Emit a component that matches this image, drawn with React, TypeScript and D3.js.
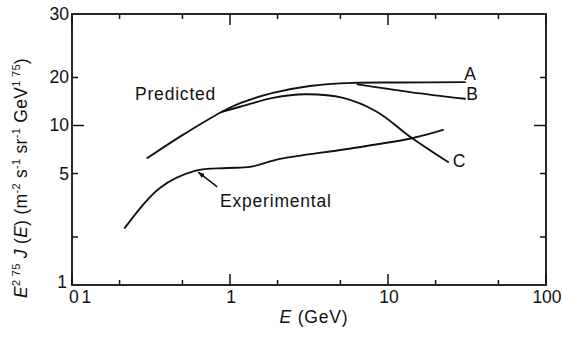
import React from "react";
import * as d3 from "d3";

// ---- data ----
const predictedA_E = [0.30, 0.50, 0.89, 1.16, 1.87, 3.2, 6.0, 12, 30.7];
const predictedA_V = [6.25, 8.7, 12.2, 13.8, 16.0, 17.7, 18.5, 18.6, 18.7];
const predictedB_E = [6.4, 13.8, 30.7];
const predictedB_V = [18.1, 16.2, 14.7];
const predictedC_E = [0.89, 1.16, 1.87, 3.0, 5.2, 8.5, 13.8, 24.0];
const predictedC_V = [12.2, 13.1, 14.9, 15.7, 14.9, 12.2, 8.5, 5.9];
const experimental_E = [0.216, 0.36, 0.60, 0.96, 1.34, 2.07, 5.5, 14.4, 22.3];
const experimental_V = [2.28, 4.06, 5.19, 5.41, 5.5, 6.17, 7.12, 8.35, 9.38];
const arrowFrom = [0.83, 4.12];
const arrowTo = [0.63, 5.1];

const xMajorTicks = [0.1, 1, 10, 100];
const xMajorLabels = ["0 1", "1", "10", "100"];
const xMinorTicks = [0.2, 0.5, 2, 5, 20, 50];
const yTicks = [1, 2, 5, 10, 20, 50];
const yTickLabels = ["1", "", "5", "10", "20", "30"];
const yMajor = [10];

const W = 562, H = 343;
const L = 72, R = 546, T = 14, B = 285;
const FONT = "'Liberation Sans', Arial, sans-serif";

export default function App() {
  const x = d3.scaleLog().domain([0.1, 100]).range([L, R]);
  const y = d3.scaleLog().domain([1, 50]).range([B, T]);
  const line = d3
    .line<[number, number]>()
    .x((d) => x(d[0]))
    .y((d) => y(d[1]))
    .curve(d3.curveCatmullRom.alpha(0.5));
  const zip = (a: number[], b: number[]) => a.map((v, i) => [v, b[i]] as [number, number]);

  const series = [
    zip(predictedA_E, predictedA_V),
    zip(predictedB_E, predictedB_V),
    zip(predictedC_E, predictedC_V),
    zip(experimental_E, experimental_V),
  ];

  const fs = 17.5;
  const ls = 0.8;

  return (
    <svg width={W} height={H} style={{ position: "absolute", left: 0, top: 0, background: "#fff" }}
      fontFamily={FONT}>
      <defs>
        <marker id="ah" viewBox="0 0 10 10" refX="9" refY="5" markerWidth="7" markerHeight="7"
          orient="auto-start-reverse" markerUnits="userSpaceOnUse">
          <path d="M0,1.5 L10,5 L0,8.5 Z" fill="#111" />
        </marker>
      </defs>
      {/* frame */}
      <rect x={L} y={T} width={R - L} height={B - T} fill="none" stroke="#111" strokeWidth={1.8} />
      {/* x ticks */}
      {xMajorTicks.map((t) => (
        <g key={"xm" + t}>
          <line x1={x(t)} x2={x(t)} y1={B} y2={B - 11} stroke="#111" strokeWidth={1.5} />
          <line x1={x(t)} x2={x(t)} y1={T} y2={T + 11} stroke="#111" strokeWidth={1.5} />
        </g>
      ))}
      {xMinorTicks.map((t) => (
        <g key={"xn" + t}>
          <line x1={x(t)} x2={x(t)} y1={B} y2={B - 5} stroke="#111" strokeWidth={1.5} />
          <line x1={x(t)} x2={x(t)} y1={T} y2={T + 5} stroke="#111" strokeWidth={1.5} />
        </g>
      ))}
      {xMajorTicks.map((t, i) =>
        i === 0 ? (
          <text key={"xl" + t} x={x(t) - 3} y={303} textAnchor="start" fontSize={fs}
            letterSpacing={-1} fill="#111">{xMajorLabels[i]}</text>
        ) : (
          <text key={"xl" + t} x={x(t) + 1} y={303} textAnchor="middle" fontSize={fs}
            fill="#111">{xMajorLabels[i]}</text>
        )
      )}
      {/* y ticks */}
      {yTicks.map((t) => {
        const len = yMajor.includes(t) ? 12 : 6;
        if (t === 1 || t === 50) return null;
        return (
          <g key={"yt" + t}>
            <line x1={L} x2={L + len} y1={y(t)} y2={y(t)} stroke="#111" strokeWidth={1.5} />
            <line x1={R} x2={R - len} y1={y(t)} y2={y(t)} stroke="#111" strokeWidth={1.5} />
          </g>
        );
      })}
      {yTicks.map((t, i) => (
        <text key={"yl" + t} x={t === 1 ? 67 : 69} y={y(t) + (t === 1 ? 3 : 6)} textAnchor="end"
          fontSize={fs} fill="#111">
          {yTickLabels[i]}
        </text>
      ))}
      {/* curves */}
      {series.map((s, i) => (
        <path key={"s" + i} d={line(s) || ""} fill="none" stroke="#111" strokeWidth={1.9}
          strokeLinejoin="round" strokeLinecap="round" />
      ))}
      {/* arrow */}
      <line x1={x(arrowFrom[0])} y1={y(arrowFrom[1])} x2={x(arrowTo[0])} y2={y(arrowTo[1])}
        stroke="#111" strokeWidth={1.5} markerEnd="url(#ah)" />
      {/* labels */}
      <text x={135} y={100} fontSize={fs} letterSpacing={ls} fill="#111">Predicted</text>
      <text x={220} y={207} fontSize={fs} letterSpacing={ls} fill="#111">Experimental</text>
      <text x={470} y={80} fontSize={fs} textAnchor="middle" fill="#111">A</text>
      <text x={472} y={100} fontSize={fs} textAnchor="middle" fill="#111">B</text>
      <text x={459} y={167} fontSize={fs} textAnchor="middle" fill="#111">C</text>
      {/* x title */}
      <text x={314} y={323} textAnchor="middle" fontSize={fs} letterSpacing={0.8} fill="#111">
        <tspan fontStyle="italic">E</tspan> (GeV)
      </text>
      {/* y title */}
      <text transform="translate(27,178) rotate(-90)" textAnchor="middle" fontSize={fs} fill="#111"
        letterSpacing={0.3}>
        <tspan fontStyle="italic">E</tspan>
        <tspan fontSize={11} dy={-7}>2 75</tspan>
        <tspan dy={7}> </tspan>
        <tspan fontStyle="italic">J</tspan>
        <tspan> (</tspan>
        <tspan fontStyle="italic">E</tspan>
        <tspan>) (m</tspan>
        <tspan fontSize={11} dy={-7}>-2</tspan>
        <tspan dy={7}> s</tspan>
        <tspan fontSize={11} dy={-7}>-1</tspan>
        <tspan dy={7}> sr</tspan>
        <tspan fontSize={11} dy={-7}>-1</tspan>
        <tspan dy={7}> GeV</tspan>
        <tspan fontSize={11} dy={-7}>1 75</tspan>
        <tspan dy={7}>)</tspan>
      </text>
    </svg>
  );
}
